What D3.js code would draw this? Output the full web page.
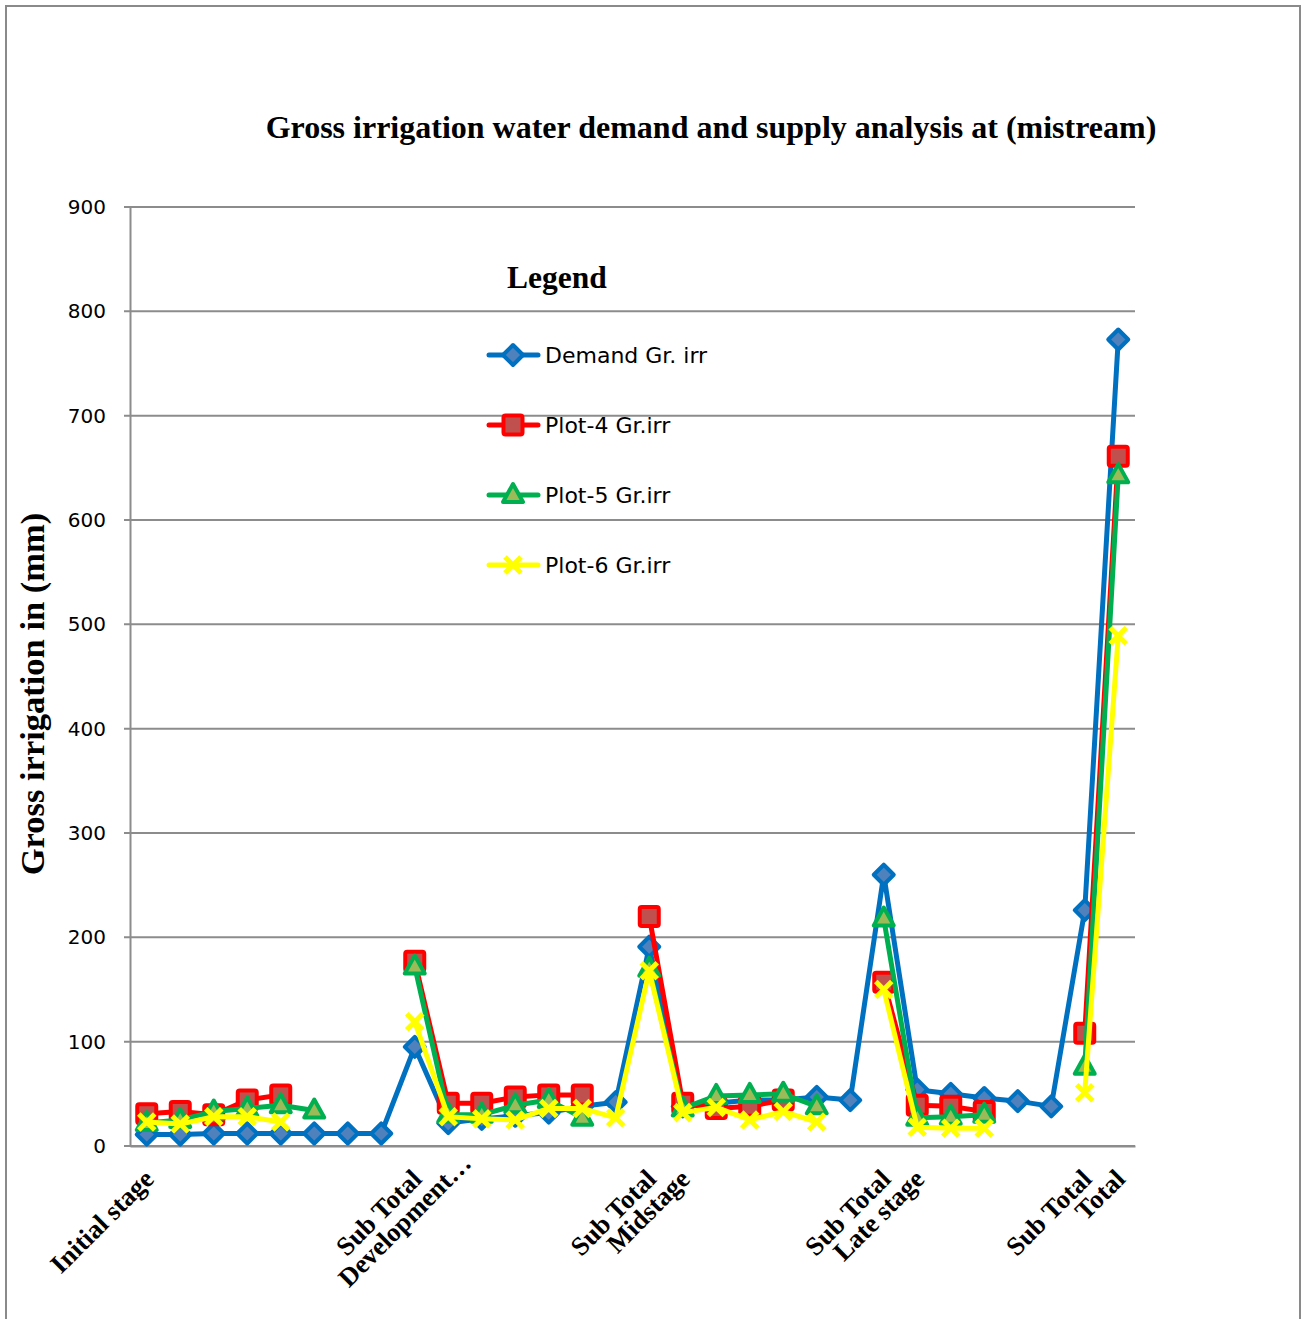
<!DOCTYPE html>
<html>
<head>
<meta charset="utf-8">
<script src="https://cdn.jsdelivr.net/npm/d3@7"></script>
<style>
  html, body { margin: 0; padding: 0; background: #fff; }
  svg { display: block; }
</style>
</head>
<body>
<svg id="chart" width="1309" height="1319"></svg>
<script>
// ---- data ----
const categories = ["Initial stage", "", "", "", "", "", "", "", "Sub Total", "Development…",
  "", "", "", "", "", "Sub Total", "Midstage", "", "", "", "", "", "Sub Total", "Late stage",
  "", "", "", "", "Sub Total", "Total"];
const demand = [11, 11, 12, 12, 12, 12, 12, 12, 95, 22, 26, 29, 32, 38, 42, 191, 38, 41, 44, 44, 47, 44, 260, 54, 50, 46, 43, 38, 226, 773];
const plot4  = [31, 33, 30, 44, 49, null, null, null, 177, 41, 41, 47, 49, 49, null, 220, 41, 36, 38, 44, null, null, 157, 39, 38, 33, null, null, 108, 661];
const plot5  = [22, 25, 33, 36, 39, 34, null, null, 172, 30, 30, 39, 44, 27, null, 170, 36, 48, 49, 50, 38, null, 218, 27, 28, 30, null, null, 76, 643];
const plot6  = [23, 21, 28, 28, 23, null, null, null, 119, 28, 26, 25, 36, 36, 27, 168, 32, 37, 25, 33, 23, null, 150, 18, 17, 17, null, null, 51, 489];
const seriesNames = ["Demand Gr. irr", "Plot-4 Gr.irr", "Plot-5 Gr.irr", "Plot-6 Gr.irr"];
const yTicks = [0, 100, 200, 300, 400, 500, 600, 700, 800, 900];

(function () {
// ---- layout ----
const svg = d3.select("#chart");
const pLeft = 130, pRight = 1135, pTop = 207, pBottom = 1146;
const serif = "'Liberation Serif', 'Times New Roman', serif";
const sans = "'DejaVu Sans', sans-serif";

const styles = [
  { line: "#0070C0", marker: "diamond", stroke: "#0070C0", fill: "#4F81BD" },
  { line: "#FF0000", marker: "square", stroke: "#FF0000", fill: "#C0504D" },
  { line: "#00B050", marker: "triangle", stroke: "#00B050", fill: "#9BBB59" },
  { line: "#FFFF00", marker: "x", stroke: "#FFFF00", fill: "none" }
];
const allSeries = [demand, plot4, plot5, plot6];

const x = d3.scaleBand().domain(d3.range(categories.length)).range([pLeft, pRight]).padding(0);
const cx = i => x(i) + x.bandwidth() / 2;
const y = d3.scaleLinear().domain([0, 900]).range([pBottom, pTop]);

// outer border
svg.append("rect").attr("x", 6).attr("y", 6).attr("width", 1294).attr("height", 1340)
  .attr("fill", "none").attr("stroke", "#8a8a8a").attr("stroke-width", 2);

// title
svg.append("text").attr("x", 711).attr("y", 138).attr("text-anchor", "middle")
  .attr("font-family", serif).attr("font-weight", "bold").attr("font-size", 32)
  .text("Gross irrigation water demand and supply analysis at (mistream)");

// gridlines
svg.append("g").selectAll("line").data(yTicks).join("line")
  .attr("x1", pLeft - 6).attr("x2", pRight)
  .attr("y1", d => y(d)).attr("y2", d => y(d))
  .attr("stroke", "#8c8c8c").attr("stroke-width", 2);

// y axis
const yAxis = svg.append("g").attr("transform", `translate(${pLeft},0)`)
  .call(d3.axisLeft(y).tickValues(yTicks).tickSize(0).tickPadding(24));
yAxis.select(".domain").attr("stroke", "#8c8c8c").attr("stroke-width", 2);
yAxis.selectAll("text").attr("font-family", sans).attr("font-size", 20).attr("fill", "#000");

// x axis
const xAxis = svg.append("g").attr("transform", `translate(0,${pBottom})`)
  .call(d3.axisBottom(x).tickSize(0).tickFormat(i => categories[i]));
xAxis.select(".domain").attr("stroke", "#8c8c8c").attr("stroke-width", 2);
xAxis.selectAll("text")
  .attr("font-family", serif).attr("font-weight", "bold").attr("font-size", 26.5).attr("fill", "#000")
  .attr("text-anchor", "end")
  .attr("transform", "translate(2,28) rotate(-45)")
  .attr("x", 0).attr("y", 0).attr("dy", "0.35em")
  .attr("dx", i => categories[i].endsWith("…") ? "0.85em" : 0);

// y axis title
svg.append("text")
  .attr("transform", `translate(44,694) rotate(-90)`)
  .attr("text-anchor", "middle")
  .attr("font-family", serif).attr("font-weight", "bold").attr("font-size", 34.5)
  .text("Gross irrigation in (mm)");

// marker drawing
function drawMarker(g, type, st) {
  if (type === "diamond") {
    g.append("path").attr("d", "M0,-10L10,0L0,10L-10,0Z")
      .attr("fill", st.fill).attr("stroke", st.stroke).attr("stroke-width", 4).attr("stroke-linejoin", "round");
  } else if (type === "square") {
    g.append("rect").attr("x", -9.5).attr("y", -9.5).attr("width", 19).attr("height", 19).attr("rx", 2)
      .attr("fill", st.fill).attr("stroke", st.stroke).attr("stroke-width", 4);
  } else if (type === "triangle") {
    g.append("path").attr("d", "M0,-11L10,7L-10,7Z")
      .attr("fill", st.fill).attr("stroke", st.stroke).attr("stroke-width", 4).attr("stroke-linejoin", "round");
  } else {
    g.append("path").attr("d", "M-8,-8L8,8M8,-8L-8,8")
      .attr("stroke", st.stroke).attr("stroke-width", 5).attr("fill", "none");
  }
}

const line = d3.line().defined(d => d.v != null).x(d => cx(d.i)).y(d => y(d.v));

allSeries.forEach((vals, s) => {
  const st = styles[s];
  const pts = vals.map((v, i) => ({ i, v }));
  const g = svg.append("g");
  g.append("path").datum(pts).attr("d", line)
    .attr("fill", "none").attr("stroke", st.line).attr("stroke-width", 5)
    .attr("stroke-linejoin", "round").attr("stroke-linecap", "round");
  g.selectAll("g.m").data(pts.filter(d => d.v != null)).join("g").attr("class", "m")
    .attr("transform", d => `translate(${cx(d.i)},${y(d.v)})`)
    .each(function () { drawMarker(d3.select(this), st.marker, st); });
});

// legend
svg.append("text").attr("x", 507).attr("y", 288)
  .attr("font-family", serif).attr("font-weight", "bold").attr("font-size", 31.5).text("Legend");
const legY = [355, 425, 495, 565];
seriesNames.forEach((name, s) => {
  const st = styles[s];
  const g = svg.append("g").attr("transform", `translate(0,${legY[s]})`);
  g.append("line").attr("x1", 489).attr("x2", 538).attr("y1", 0).attr("y2", 0)
    .attr("stroke", st.line).attr("stroke-width", 5).attr("stroke-linecap", "round");
  const m = g.append("g").attr("transform", "translate(513,0)");
  drawMarker(m, st.marker, st);
  g.append("text").attr("x", 545).attr("y", 0).attr("dy", "0.36em")
    .attr("font-family", sans).attr("font-size", 22).text(name);
});
})();
</script>
</body>
</html>
